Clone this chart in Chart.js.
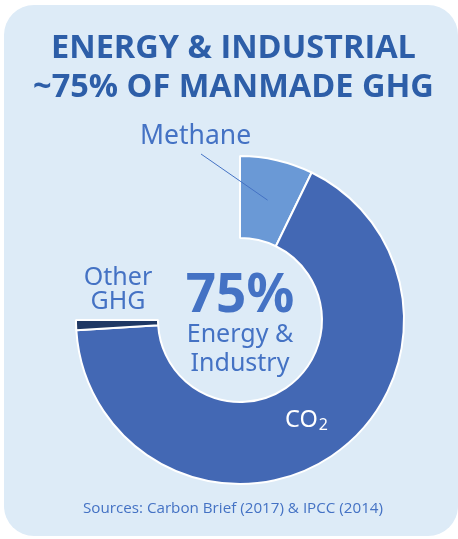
<!DOCTYPE html>
<html>
<head>
<meta charset="utf-8">
<script src="https://cdn.jsdelivr.net/npm/chart.js@4.4.1/dist/chart.umd.min.js"></script>
<style>
  html, body { margin: 0; padding: 0; background: #ffffff; }
  body { width: 458px; height: 539px; position: relative; overflow: hidden; }
  #panel { position: absolute; left: 4px; top: 5px; width: 454px; height: 531px; background: #DDEBF7; border-radius: 30px; }
  #c { position: absolute; left: 0; top: 0; }
  .t { position: absolute; white-space: nowrap; }
  #title { left: 0; width: 467px; top: 26px; text-align: center; font-family: "Open Sans", sans-serif; font-weight: 700; font-size: 32.5px; line-height: 39px; color: #2D5EA8; }
  .lbl { font-family: "Noto Sans", sans-serif; color: #4472C4; }
  #methane { left: 140px; top: 117px; font-size: 26.5px; line-height: 34px; }
  #other { left: 68px; width: 100px; top: 263px; font-size: 25px; line-height: 24px; text-align: center; }
  #pct { left: 140px; width: 200px; top: 262px; text-align: center; font-size: 53px; font-weight: 700; line-height: 60px; }
  #ei { left: 140px; width: 200px; top: 318px; text-align: center; font-size: 25px; line-height: 29px; }
  #co2 { left: 285px; top: 403px; font-family: "Noto Sans", sans-serif; color: #ffffff; font-size: 23.5px; line-height: 30px; }
  #co2 sub { font-size: 16px; vertical-align: -3px; line-height: 0; margin-left: 1px; }
  #src { left: 0; width: 466px; top: 497px; text-align: center; font-family: "Open Sans", sans-serif; font-size: 15.2px; line-height: 20px; color: #4472C4; }
</style>
</head>
<body>
<div id="panel"></div>
<canvas id="c" width="458" height="539"></canvas>
<div class="t" id="title">ENERGY &amp; INDUSTRIAL<br>~75% OF MANMADE GHG</div>
<div class="t lbl" id="methane">Methane</div>
<div class="t lbl" id="other">Other<br>GHG</div>
<div class="t lbl" id="pct">75%</div>
<div class="t lbl" id="ei">Energy &amp;<br>Industry</div>
<div class="t" id="co2">CO<sub>2</sub></div>
<div class="t" id="src">Sources: Carbon Brief (2017) &amp; IPCC (2014)</div>
<script>
// Share of manmade GHG emissions (%), clockwise from the top
const categories = ["Methane", "CO2", "Other GHG", "Rest"];
const shares = [7.2, 66.8, 1.0, 25.0];
const colors = ["#6A99D6", "#4368B4", "#1F3864", "rgba(0,0,0,0)"];
const borders = [2, 2, 2, 0];

const leader = {
  id: "leader",
  afterDatasetsDraw(chart) {
    const arc = chart.getDatasetMeta(0).data[0];
    const p = arc.tooltipPosition();
    const ctx = chart.ctx;
    ctx.save();
    ctx.strokeStyle = "#4472C4";
    ctx.lineWidth = 1;
    ctx.beginPath();
    ctx.moveTo(201, 154);
    ctx.lineTo(p.x, p.y);
    ctx.stroke();
    ctx.restore();
  }
};

new Chart(document.getElementById("c"), {
  type: "doughnut",
  data: {
    labels: categories,
    datasets: [{
      data: shares,
      backgroundColor: colors,
      borderColor: "#ffffff",
      borderWidth: borders,
      hoverOffset: 0
    }]
  },
  options: {
    responsive: false,
    animation: false,
    cutout: "50%",
    rotation: 0,
    circumference: 360,
    layout: { padding: { left: 75, top: 155, right: 53, bottom: 54 } },
    plugins: { legend: { display: false }, tooltip: { enabled: false } },
    events: []
  },
  plugins: [leader]
});
</script>
</body>
</html>
